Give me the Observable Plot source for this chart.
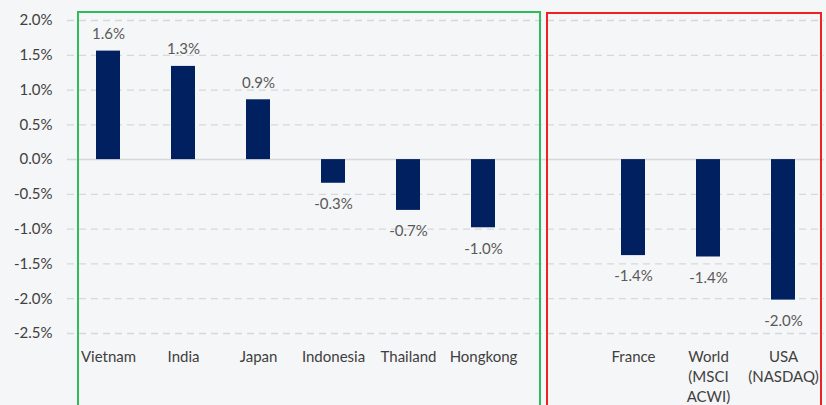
<!DOCTYPE html>
<html>
<head>
<meta charset="utf-8">
<script src="https://cdn.jsdelivr.net/npm/d3@7"></script>
<script src="https://cdn.jsdelivr.net/npm/@observablehq/plot@0.6"></script>
<style>
  html, body { margin: 0; padding: 0; background: #f5f6f7; }
  #chart { width: 826px; height: 405px; overflow: hidden; }
</style>
</head>
<body>
<div id="chart"></div>
<script>
// Data
const asiaMarkets = ["Vietnam", "India", "Japan", "Indonesia", "Thailand", "Hongkong"];
const asiaValues = [1.56, 1.34, 0.86, -0.34, -0.73, -0.98];
const globalMarkets = ["France", "World\n(MSCI\nACWI)", "USA\n(NASDAQ)"];
const globalValues = [-1.38, -1.40, -2.02];
const yTicks = [2.0, 1.5, 1.0, 0.5, 0.0, -0.5, -1.0, -1.5, -2.0, -2.5];
const gapKey = "__gap__";

const data = [
  ...asiaMarkets.map((name, i) => ({name, value: asiaValues[i]})),
  ...globalMarkets.map((name, i) => ({name, value: globalValues[i]}))
];
const xDomain = [...asiaMarkets, gapKey, ...globalMarkets];
const fmt = v => v.toFixed(1) + "%";

const chart = Plot.plot({
  width: 826,
  height: 405,
  marginLeft: 67,
  marginRight: 2,
  marginTop: 20,
  marginBottom: 72,
  style: {background: "transparent", fontFamily: "Lato, sans-serif", fontSize: "15px", color: "#404040", overflow: "visible"},
  x: {domain: xDomain, paddingInner: 0.683, paddingOuter: 0.3415, axis: null},
  y: {domain: [-2.5, 2.0], axis: null},
  marks: [
    Plot.ruleY(yTicks.filter(d => d !== 0), {stroke: "#d6d8da", strokeWidth: 1.3, strokeDasharray: "7,5"}),
    Plot.ruleY([0], {stroke: "#d6d8da", strokeWidth: 1.5}),
    Plot.barY(data, {x: "name", y: "value", fill: "#002060"}),
    Plot.text(data.filter(d => d.value > 0), {x: "name", y: "value", text: d => fmt(d.value), dy: -17, fill: "#595959", fontSize: 15}),
    Plot.text(data.filter(d => d.value < 0), {x: "name", y: "value", text: d => fmt(d.value), dy: 21, fill: "#595959", fontSize: 15}),
    Plot.axisY(yTicks, {tickSize: 0, tickPadding: 15, tickFormat: fmt, fill: "#404040", fontSize: 15, label: null}),
    Plot.axisX({tickSize: 0, tickPadding: 14, tickFormat: d => d === gapKey ? "" : d, fill: "#404040", fontSize: 15, lineHeight: 1.35, label: null})
  ]
});

// Group boxes drawn from the scales
const xs = chart.scale("x");
const ys = chart.scale("y");
const bw = xs.bandwidth;
const svg = d3.select(chart);
const boxes = [
  {from: asiaMarkets[0], to: asiaMarkets[asiaMarkets.length - 1], color: "#2dbd5a", padL: 18, padR: 45, top: 8},
  {from: globalMarkets[0], to: globalMarkets[globalMarkets.length - 1], color: "#ee2222", padL: 74, padR: 26, top: 7}
];
for (const b of boxes) {
  const x1 = xs.apply(b.from) - b.padL;
  const x2 = Math.min(xs.apply(b.to) + bw + b.padR, 825);
  const y1 = ys.apply(2.0) - b.top;
  svg.append("rect")
    .attr("x", x1).attr("y", y1)
    .attr("width", x2 - x1).attr("height", 420 - y1)
    .attr("fill", "none").attr("stroke", b.color).attr("stroke-width", 2);
}

document.getElementById("chart").appendChild(chart);
</script>
</body>
</html>
